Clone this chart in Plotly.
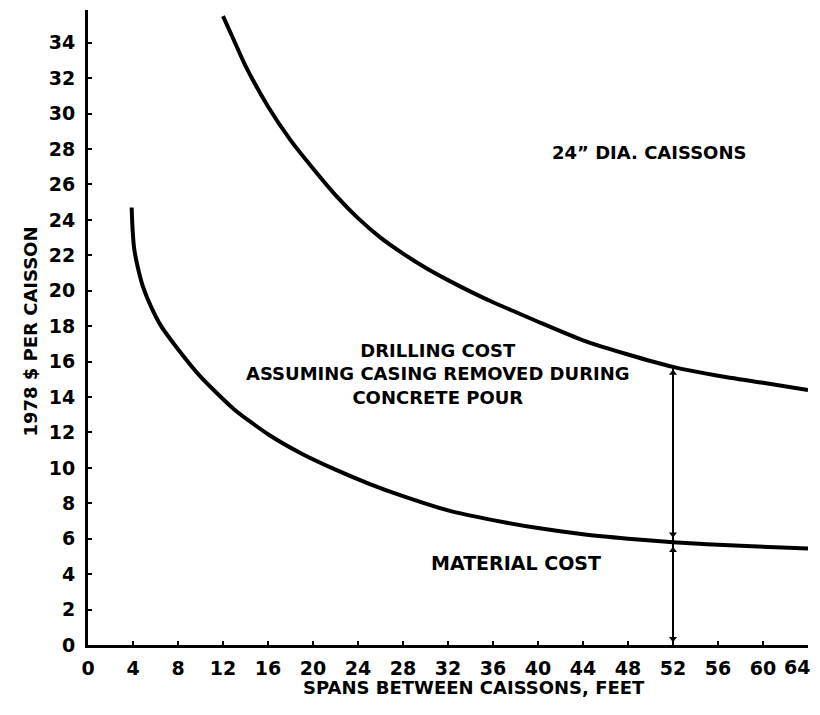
import plotly.graph_objects as go

# Drilling cost curve (upper)
drill_x = [12, 13, 14, 16, 18, 20, 22, 24, 26, 28, 30, 32, 34, 36, 38, 40, 44, 48, 52, 56, 60, 64]
drill_y = [35.5, 34.1, 32.7, 30.4, 28.5, 26.9, 25.4, 24.1, 23.0, 22.1, 21.3, 20.6, 19.95, 19.35, 18.8, 18.25,
           17.2, 16.4, 15.7, 15.2, 14.8, 14.4]

# Material cost curve (lower)
mat_x = [3.88, 3.95, 4.1, 4.4, 4.9, 5.6, 6.5, 8, 10, 13, 16, 19, 22, 25, 28, 32, 36, 40, 44, 48, 52, 58, 64]
mat_y = [24.7, 23.6, 22.4, 21.4, 20.2, 19.1, 18.0, 16.7, 15.15, 13.3, 11.9, 10.8, 9.9, 9.1, 8.4, 7.6, 7.05,
         6.6, 6.25, 6.0, 5.8, 5.6, 5.45]

# Dimension line at span 52
dim_x = 52
dim_top = 15.7
dim_mid = 5.8

x_ticks = list(range(0, 65, 4))
y_ticks = list(range(0, 35, 2))

FONT = "DejaVu Sans"
BOLD = 700

fig = go.Figure()

fig.add_trace(go.Scatter(x=drill_x, y=drill_y, mode="lines",
                         line=dict(color="black", width=4, shape="spline", smoothing=0.6),
                         hoverinfo="skip", showlegend=False))
fig.add_trace(go.Scatter(x=mat_x, y=mat_y, mode="lines",
                         line=dict(color="black", width=4, shape="spline", smoothing=0.6),
                         hoverinfo="skip", showlegend=False))

# dimension line
fig.add_trace(go.Scatter(x=[dim_x, dim_x], y=[0, dim_top], mode="lines",
                         line=dict(color="black", width=2),
                         hoverinfo="skip", showlegend=False))
fig.add_trace(go.Scatter(x=[dim_x, dim_x, dim_x, dim_x],
                         y=[dim_top - 0.35, dim_mid + 0.45, dim_mid - 0.45, 0.35],
                         mode="markers",
                         marker=dict(symbol=["triangle-up", "triangle-down", "triangle-up", "triangle-down"],
                                     size=7, color="black"),
                         hoverinfo="skip", showlegend=False))

# last tick label drawn separately so it stays inside the page
x_ticktext = [str(v) for v in x_ticks[:-1]] + [""]

fig.update_xaxes(range=[0, 64], tickvals=x_ticks, ticktext=x_ticktext,
                 showline=True, linecolor="black", linewidth=3,
                 ticks="inside", ticklen=4, tickwidth=2, tickcolor="black",
                 showgrid=False, zeroline=False, ticklabelstandoff=4,
                 tickfont=dict(family=FONT, size=19, color="black", weight=BOLD))
fig.update_yaxes(range=[0, 35.85], tickvals=y_ticks, ticktext=[str(v) for v in y_ticks],
                 showline=True, linecolor="black", linewidth=3,
                 ticks="inside", ticklen=4, tickwidth=2, tickcolor="black",
                 showgrid=False, zeroline=False, ticklabelstandoff=6,
                 tickfont=dict(family=FONT, size=19, color="black", weight=BOLD))

ann_font = dict(family=FONT, color="black", weight=BOLD)
annotations = [
    dict(x=x_ticks[-1], y=0, xref="x", yref="paper", text=str(x_ticks[-1]), showarrow=False,
         xanchor="right", xshift=4, yanchor="middle", yshift=-22,
         font=dict(size=19, **ann_font)),
    dict(x=49.9, y=27.8, xref="x", yref="y", text="24\u201d DIA. CAISSONS", showarrow=False,
         font=dict(size=18, **ann_font)),
    dict(x=31.1, y=15.3, xref="x", yref="y",
         text="DRILLING COST<br>ASSUMING CASING REMOVED DURING<br>CONCRETE POUR",
         showarrow=False, align="center", font=dict(size=18, **ann_font)),
    dict(x=38.06, y=4.63, xref="x", yref="y", text="MATERIAL COST", showarrow=False,
         font=dict(size=19, **ann_font)),
    dict(x=-0.097, y=0.493, xref="paper", yref="paper", text="1978 $ PER CAISSON",
         showarrow=False, textangle=-90, font=dict(size=18, **ann_font)),
    dict(x=0.536, y=-0.0866, xref="paper", yref="paper", text="SPANS BETWEEN CAISSONS, FEET",
         showarrow=False, font=dict(size=18, **ann_font)),
]

fig.update_layout(width=820, height=715,
                  margin=dict(l=80, r=20, t=2, b=78),
                  plot_bgcolor="white", paper_bgcolor="white",
                  annotations=annotations, showlegend=False)

fig.write_html("out.html")
